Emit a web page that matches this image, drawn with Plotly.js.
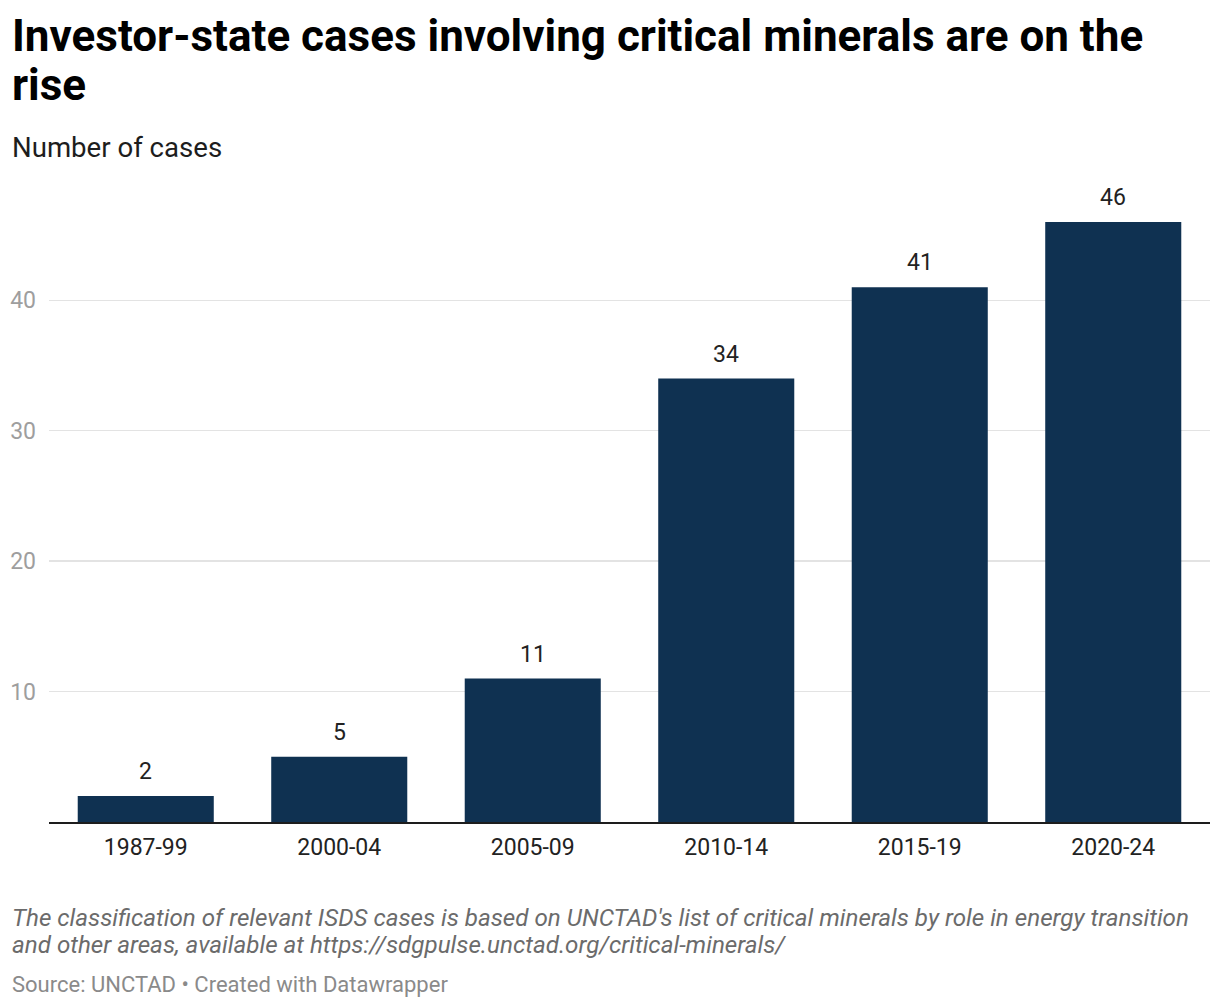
<!DOCTYPE html>
<html>
<head>
<meta charset="utf-8">
<script src="https://cdn.plot.ly/plotly-3.0.1.min.js"></script>
<style>html,body{margin:0;padding:0;background:#fff;}#chart{width:1220px;height:1008px;}</style>
</head>
<body>
<div id="chart"></div>
<script>
const periods = ["1987-99", "2000-04", "2005-09", "2010-14", "2015-19", "2020-24"];
const cases = [2, 5, 11, 34, 41, 46];
const yTicks = [10, 20, 30, 40];

const W = 1220, H = 1008;
const L = 49, R = 10, T = 222, B = 186;
const pw = W - L - R, ph = H - T - B;
const px = x => (x - L) / pw;
const py = y => (H - B - y) / ph;

const FONT = "Roboto, 'Noto Sans', sans-serif";

const trace = {
  type: "bar",
  x: periods,
  y: cases,
  marker: {color: "#0f3151"},
  cliponaxis: false,
  hoverinfo: "skip"
};

const paperAnn = [
  {text: "<b>Investor-state cases involving critical minerals are on the</b>", x: px(10), y: py(8), font: {family: FONT, size: 44, color: "#000"}},
  {text: "<b>rise</b>", x: px(10), y: py(57), font: {family: FONT, size: 44, color: "#000"}},
  {text: "Number of cases", x: px(10), y: py(129), font: {family: FONT, size: 27.6, color: "#1d1d1d"}},
  {text: "<i>The classification of relevant ISDS cases is based on UNCTAD's list of critical minerals by role in energy transition</i>", x: px(10), y: py(902), font: {family: FONT, size: 24.2, color: "#6b6b6b"}},
  {text: "<i>and other areas, available at https://sdgpulse.unctad.org/critical-minerals/</i>", x: px(10), y: py(929), font: {family: FONT, size: 24.2, color: "#6b6b6b"}},
  {text: "Source: UNCTAD • Created with Datawrapper", x: px(10), y: py(970), font: {family: FONT, size: 22, color: "#8a8a8a"}}
].map(a => Object.assign({xref: "paper", yref: "paper", showarrow: false, xanchor: "left", yanchor: "top", align: "left"}, a));

const valueAnn = periods.map((p, i) => ({
  xref: "x", yref: "y", x: p, y: cases[i], text: String(cases[i]),
  showarrow: false, xanchor: "center", yanchor: "bottom", yshift: 9,
  font: {family: FONT, size: 23, color: "#222"}
}));

const layout = {
  width: W, height: H,
  margin: {l: L, r: R, t: T, b: B, pad: 0},
  paper_bgcolor: "#fff", plot_bgcolor: "#fff",
  bargap: 0.297,
  showlegend: false,
  xaxis: {
    type: "category",
    showline: true, linecolor: "#1d1d1d", linewidth: 2,
    showgrid: false, ticks: "",
    tickfont: {family: FONT, size: 23, color: "#222"},
    ticklabelstandoff: 3
  },
  yaxis: {
    range: [0, 46],
    tickvals: yTicks,
    ticktext: yTicks.map(String),
    showgrid: true, gridcolor: "#e3e3e3", gridwidth: 1.5,
    zeroline: false, showline: false, ticks: "",
    tickfont: {family: FONT, size: 23, color: "#9e9e9e"},
    ticklabelstandoff: 12
  },
  annotations: paperAnn.concat(valueAnn)
};

Plotly.newPlot("chart", [trace], layout, {displayModeBar: false, staticPlot: true});
</script>
</body>
</html>
